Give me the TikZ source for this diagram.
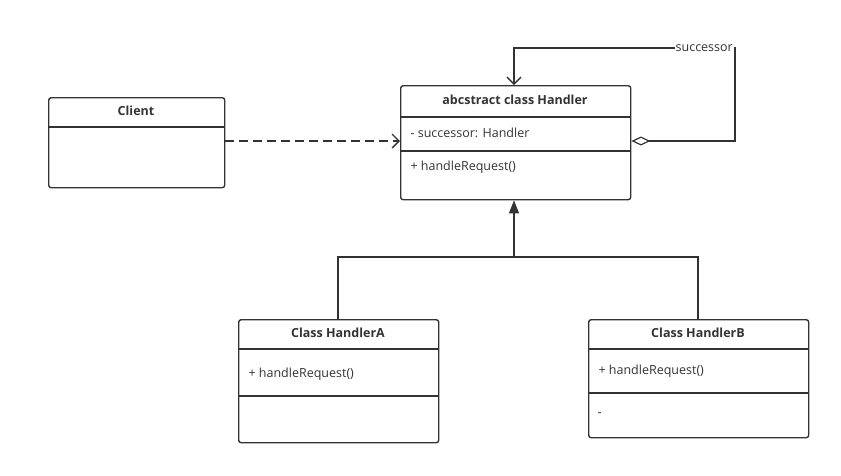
\documentclass[tikz,border=0pt]{standalone}
\usepackage{fontspec}
\setmainfont{Open Sans}
\usetikzlibrary{arrows.meta,positioning}
\definecolor{linie}{HTML}{333333}
\tikzset{
  %Define standard arrow tips
  aaben/.tip={Straight Barb[length=7pt,width=14pt,line width=1.3pt]},
  arv/.tip={Triangle[length=13pt,width=10pt]},
  rombe/.tip={Diamond[open,length=19pt,width=9pt,line width=1.2pt]},
  %Define style for class boxes
  klasse/.style={
    rectangle,
    rounded corners=2.5pt,
    draw=linie, line width=1.4pt,
    inner sep=0pt,
    anchor=north west},
  %Define text styles
  titel/.style={font=\fontsize{12.5}{14}\selectfont\bfseries, text=linie},
  felt/.style={font=\fontsize{12.5}{14}\selectfont, text=linie, anchor=west},
  % Define line style
  pil/.style={
    draw=linie,
    line width=1.4pt}
}

\begin{document}
\begin{tikzpicture}[x=1pt,y=-1pt]
  \useasboundingbox (0,0) rectangle (841,475);
  % class boxes
  \node[klasse, minimum width=176pt, minimum height=90pt] (client) at (48,97) {};
  \node[klasse, minimum width=230pt, minimum height=114pt] (handler) at (400,85) {};
  \node[klasse, minimum width=200pt, minimum height=123pt] (handlerA) at (238,319) {};
  \node[klasse, minimum width=220pt, minimum height=118pt] (handlerB) at (588,319) {};
  % dividers
  \draw[pil] (48,127) -- (224,127);
  \draw[pil] (400,117) -- (630,117);
  \draw[pil] (400,151) -- (630,151);
  \draw[pil] (238,349) -- (438,349);
  \draw[pil] (238,396) -- (438,396);
  \draw[pil] (588,349) -- (808,349);
  \draw[pil] (588,393) -- (808,393);
  % texts
  \node[titel] at (136,111) {Client};
  \node[titel] at (515,100) {abcstract class Handler};
  \node[felt] at (407,133) {- successor: Handler};
  \node[felt] at (407,167) {+ handleRequest()};
  \node[titel] at (338,333) {Class HandlerA};
  \node[felt] at (245,374) {+ handleRequest()};
  \node[titel] at (698,333) {Class HandlerB};
  \node[felt] at (595,371) {+ handleRequest()};
  \node[felt] at (594,415) {-};
  % connectors
  \coordinate (knude) at (514,257);
  \draw[pil, dashed, dash pattern=on 9pt off 5pt, -aaben] (client.east |- 0,141) -- (handler.west |- 0,141);
  \draw[pil, rombe-aaben] (handler.east |- 0,141) -- (735,141) -- (735,48)
    -- (514,48) -- (handler.north -| 514,0);
  \node[fill=white, inner sep=1pt, anchor=east, font=\fontsize{12.5}{14}\selectfont, text=linie] (succ) at (734,48) {successor};
  \draw[pil, line width=1.1pt] (handlerA.north -| 338,0) -- (338,257) -- (698,257) -- (handlerB.north -| 698,0);
  \draw[pil, -arv] (knude) -- (handler.south -| 514,0);
\end{tikzpicture}
\end{document}
